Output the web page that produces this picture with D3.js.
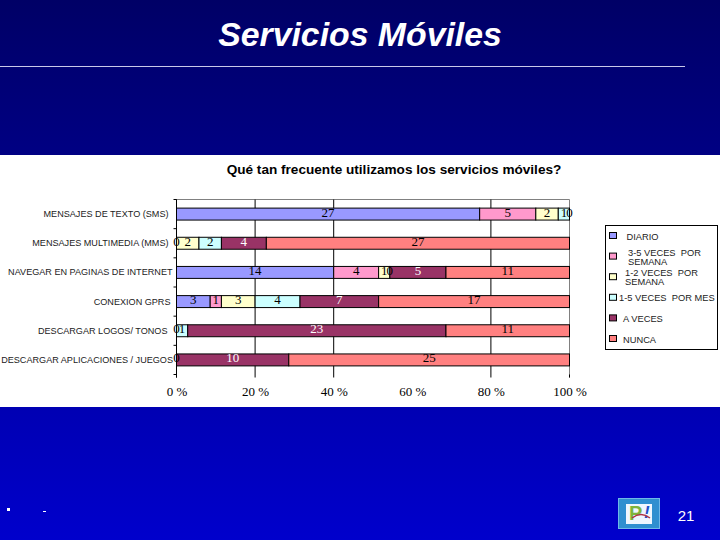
<!DOCTYPE html>
<html>
<head>
<meta charset="utf-8">
<script src="https://d3js.org/d3.v7.min.js"></script>
<style>
html, body { margin: 0; padding: 0; background: #0000c8; overflow: hidden; }
svg { display: block; }
</style>
</head>
<body>
<div id="chart"></div>
<script>
// chart values
var categories = [
    "MENSAJES DE TEXTO (SMS)",
    "MENSAJES MULTIMEDIA (MMS)",
    "NAVEGAR EN PAGINAS DE INTERNET",
    "CONEXION GPRS",
    "DESCARGAR LOGOS/ TONOS",
    "DESCARGAR APLICACIONES / JUEGOS"
];
var seriesNames = ["DIARIO", "3-5 VECES  POR SEMANA", "1-2 VECES  POR SEMANA", "1-5 VECES  POR MES", "A VECES", "NUNCA"];
var seriesColors = ["#9999ff", "#ff99cc", "#ffffcc", "#ccffff", "#993366", "#ff8080"];
var legendLines = [["DIARIO"], ["3-5 VECES  POR", "SEMANA"], ["1-2 VECES  POR", "SEMANA"], ["1-5 VECES  POR MES"], ["A VECES"], ["NUNCA"]];

// null = no label shown in the original
var diario = [27, 0, 14, 3, 0, 0];
var tresCinco = [5, null, 4, 1, null, null];
var unoDos = [2, 2, 1, 3, null, null];
var unoCincoMes = [1, 2, 0, 4, 1, null];
var aVeces = [0, 4, 5, 7, 23, 10];
var nunca = [null, 27, 11, 17, 11, 25];
var allSeries = [diario, tresCinco, unoDos, unoCincoMes, aVeces, nunca];

var percentTicks = [0, 20, 40, 60, 80, 100];
var gridTicks = [0, 20, 40, 80];

var width = 720;
var height = 540;
var plotBottom = 377.5;

var svg = d3.select("#chart")
    .append("svg")
    .attr("width", width)
    .attr("height", height);

// slide background
var grad = svg.append("defs").append("linearGradient")
    .attr("id", "bg")
    .attr("x1", 0).attr("y1", 0).attr("x2", 0).attr("y2", 1);
grad.append("stop").attr("offset", "0%").attr("stop-color", "#000066");
grad.append("stop").attr("offset", "100%").attr("stop-color", "#0000cc");

svg.append("rect")
    .attr("width", width)
    .attr("height", height)
    .attr("fill", "url(#bg)");

svg.append("text")
    .attr("x", 360)
    .attr("y", 46)
    .attr("text-anchor", "middle")
    .attr("fill", "#fff")
    .style("font", "italic bold 33.8px 'Liberation Sans'")
    .text("Servicios Móviles");

svg.append("line")
    .attr("x1", 0).attr("x2", 685)
    .attr("y1", 66.5).attr("y2", 66.5)
    .attr("stroke", "#c8c8e8");

// white chart panel
svg.append("rect")
    .attr("x", 0).attr("y", 155)
    .attr("width", width).attr("height", 252)
    .attr("fill", "#fff");

svg.append("text")
    .attr("x", 394)
    .attr("y", 174)
    .attr("text-anchor", "middle")
    .attr("fill", "#000")
    .style("font", "bold 13.6px 'Liberation Sans'")
    .text("Qué tan frecuente utilizamos los servicios móviles?");

// scales
var xScale = d3.scaleLinear().domain([0, 100]).range([176.5, 569.5]);
var yScale = d3.scaleBand().domain(categories).range([199.5, 374.5]).paddingInner(0.59).paddingOuter(0.295);

var rows = categories.map(function (c, i) {
    var row = { category: c };
    seriesNames.forEach(function (s, j) {
        row[s] = allSeries[j][i];
    });
    return row;
});

var stack = d3.stack()
    .keys(seriesNames)
    .value(function (d, key) { return d[key] || 0; })
    .offset(d3.stackOffsetExpand);
var stacked = stack(rows);

// plot frame
svg.append("path")
    .attr("d", "M" + xScale(0) + "," + yScale.range()[0] + "H" + xScale(100) + "V" + plotBottom)
    .attr("fill", "none")
    .attr("stroke", "#808080");

// grid lines
svg.append("g").selectAll("line")
    .data(gridTicks)
    .enter()
    .append("line")
    .attr("x1", function (d) { return xScale(d); })
    .attr("x2", function (d) { return xScale(d); })
    .attr("y1", yScale.range()[0])
    .attr("y2", plotBottom)
    .attr("stroke", "#000");

// bars
var layers = svg.append("g").selectAll("g")
    .data(stacked)
    .enter()
    .append("g")
    .attr("fill", function (d, i) { return seriesColors[i]; });

layers.selectAll("rect")
    .data(function (d) { return d; })
    .enter()
    .append("rect")
    .attr("x", function (d) { return xScale(d[0] * 100); })
    .attr("y", function (d) { return yScale(d.data.category); })
    .attr("width", function (d) { return xScale(d[1] * 100) - xScale(d[0] * 100); })
    .attr("height", yScale.bandwidth())
    .attr("stroke", "#000")
    .attr("stroke-width", 1);

// value labels go on top of all the bars
var labelLayers = svg.append("g").selectAll("g")
    .data(stacked)
    .enter()
    .append("g");

labelLayers.each(function (layer, i) {
    d3.select(this).selectAll("text")
        .data(layer.filter(function (d) { return d.data[seriesNames[i]] !== null; }))
        .enter()
        .append("text")
        .attr("x", function (d) { return xScale((d[0] + d[1]) * 50); })
        .attr("y", function (d) { return yScale(d.data.category) + yScale.bandwidth() / 2 + 2.5; })
        .attr("text-anchor", "middle")
        .attr("fill", function (d) { return seriesNames[i] === "A VECES" && d[0] !== d[1] ? "#fff" : "#000"; })
        .style("font", "13px 'Liberation Serif'")
        .text(function (d) { return d.data[seriesNames[i]]; });
});

// axes
var xAxis = d3.axisBottom(xScale)
    .tickValues(percentTicks)
    .tickSize(0)
    .tickPadding(9)
    .tickFormat(function (d) { return d + " %"; });
var xAxisG = svg.append("g")
    .attr("transform", "translate(0," + plotBottom + ")")
    .call(xAxis);
xAxisG.select(".domain").remove();
xAxisG.selectAll("text")
    .attr("fill", "#000")
    .style("font", "13px 'Liberation Serif'");

// black end tick at 100 %
svg.append("line")
    .attr("x1", xScale(100)).attr("x2", xScale(100))
    .attr("y1", yScale.range()[1]).attr("y2", plotBottom)
    .attr("stroke", "#000");

var labelNudge = [-2, -2, 2, 0, -3, 2.5];
var yAxis = d3.axisLeft(yScale).tickSize(0).tickPadding(6);
var yAxisG = svg.append("g")
    .attr("transform", "translate(" + xScale(0) + ",0)")
    .call(yAxis);
yAxisG.select(".domain").remove();
yAxisG.selectAll("text")
    .attr("fill", "#222")
    .attr("dx", function (d, i) { return labelNudge[i]; })
    .style("font", "9.1px 'Liberation Sans'");

svg.append("line")
    .attr("x1", xScale(0)).attr("x2", xScale(0))
    .attr("y1", yScale.range()[0]).attr("y2", plotBottom)
    .attr("stroke", "#000");

// little ticks between the bars
svg.append("g").selectAll("line")
    .data(d3.range(categories.length + 1))
    .enter()
    .append("line")
    .attr("x1", xScale(0) - 3)
    .attr("x2", xScale(0))
    .attr("y1", function (d) { return yScale.range()[0] + d * yScale.step(); })
    .attr("y2", function (d) { return yScale.range()[0] + d * yScale.step(); })
    .attr("stroke", "#000");

// legend
svg.append("rect")
    .attr("x", 605.5).attr("y", 225.5)
    .attr("width", 112).attr("height", 124)
    .attr("fill", "#fff")
    .attr("stroke", "#000");

var legendY = d3.scalePoint().domain(seriesNames).range([236, 339]);
var legendTextX = [626.5, 628, 625, 619, 623, 623];

var legendRows = svg.append("g").selectAll("g")
    .data(seriesNames)
    .enter()
    .append("g")
    .attr("transform", function (d) { return "translate(0," + legendY(d) + ")"; });

legendRows.append("rect")
    .attr("x", 609.5).attr("y", -3.5)
    .attr("width", 7).attr("height", 6)
    .attr("fill", function (d, i) { return seriesColors[i]; })
    .attr("stroke", "#000");

legendRows.each(function (d, i) {
    var lines = legendLines[i];
    d3.select(this).selectAll("text")
        .data(lines)
        .enter()
        .append("text")
        .attr("x", legendTextX[i])
        .attr("y", function (t, k) { return 3.5 + (k - (lines.length - 1) / 2) * 9; })
        .attr("fill", "#222")
        .style("white-space", "pre")
        .style("font", "9.3px 'Liberation Sans'")
        .text(function (t) { return t; });
});

// footer
svg.append("rect").attr("x", 7).attr("y", 508).attr("width", 3).attr("height", 3).attr("fill", "#fff");
svg.append("rect").attr("x", 43).attr("y", 511).attr("width", 3).attr("height", 1).attr("fill", "#fff");

svg.append("rect")
    .attr("x", 618.5).attr("y", 498.5)
    .attr("width", 41).attr("height", 30)
    .attr("fill", "#2f8fd0")
    .attr("stroke", "#6fb8e8");
svg.append("rect")
    .attr("x", 626).attr("y", 504)
    .attr("width", 26).attr("height", 20)
    .attr("fill", "#eef6ff");
svg.append("text")
    .attr("x", 629).attr("y", 520)
    .attr("fill", "#7db43c")
    .style("font", "bold 20px 'Liberation Sans'")
    .text("P");
svg.append("text")
    .attr("x", 644).attr("y", 518)
    .attr("fill", "#1c50c8")
    .style("font", "italic bold 17px 'Liberation Sans'")
    .text("!");
svg.append("path")
    .attr("d", "M632,518 Q641,511 650,518")
    .attr("fill", "none")
    .attr("stroke", "#b03040")
    .attr("stroke-width", 1.5);

svg.append("text")
    .attr("x", 686)
    .attr("y", 521)
    .attr("text-anchor", "middle")
    .attr("fill", "#fff")
    .style("font", "15px 'Liberation Sans'")
    .text("21");
</script>
</body>
</html>
